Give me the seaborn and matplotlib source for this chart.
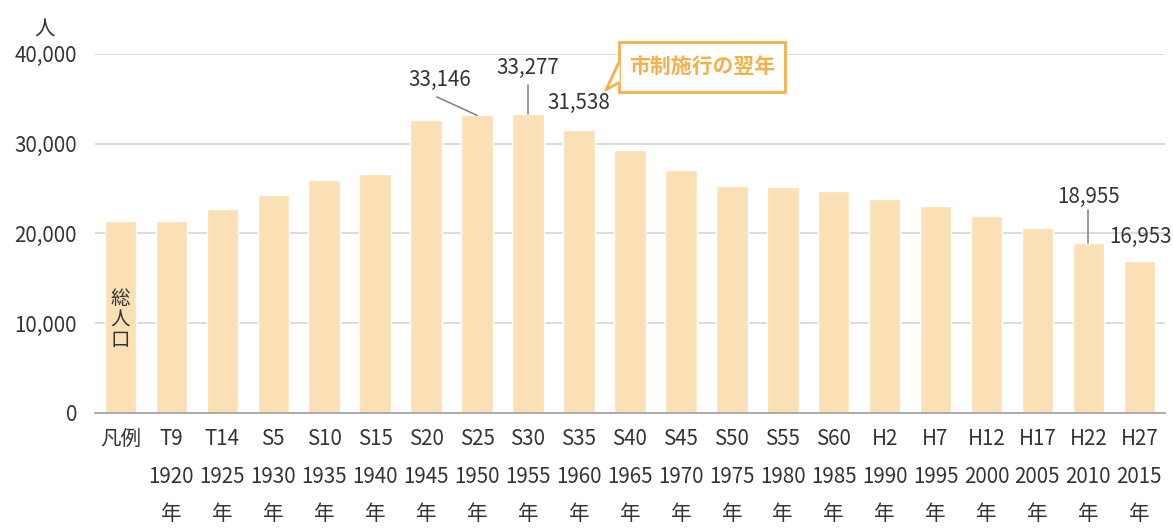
import matplotlib
matplotlib.use("Agg")
import matplotlib.pyplot as plt
import seaborn as sns
import pandas as pd
from matplotlib.patches import Rectangle, Polygon
from matplotlib.lines import Line2D

# データ
era = ["凡例", "T9", "T14", "S5", "S10", "S15", "S20", "S25", "S30", "S35", "S40",
       "S45", "S50", "S55", "S60", "H2", "H7", "H12", "H17", "H22", "H27"]
years = ["", "1920", "1925", "1930", "1935", "1940", "1945", "1950", "1955", "1960",
         "1965", "1970", "1975", "1980", "1985", "1990", "1995", "2000", "2005", "2010", "2015"]
population = [21400, 21400, 22730, 24290, 25960, 26630, 32650, 33146, 33277, 31538, 29300,
              27080, 25290, 25180, 24740, 23840, 23060, 21950, 20610, 18955, 16953]
labelled = ["S25", "S30", "S35", "H22", "H27"]

sns.set_theme(style="white")
plt.rcParams['font.family'] = ['Noto Sans CJK JP', 'DejaVu Sans']

txt = "#333333"
bar_c = "#FBE0B5"
orange = "#F5B04A"
fs = 14.8

df = pd.DataFrame({"era": era, "pop": population})

fig = plt.figure(figsize=(11.73, 5.29), dpi=100)
ax = fig.add_axes([0.081, 0.2193, 0.912, 0.6789])

sns.barplot(data=df, x="era", y="pop", color=bar_c, width=0.62, saturation=1, ax=ax)

ax.set_ylim(0, 40000)
ax.set_xlim(-0.5, len(era) - 0.5)
ax.set_yticks(range(0, 40001, 10000))
ax.set_yticklabels([f"{v:,}" for v in range(0, 40001, 10000)], fontsize=fs, color=txt)
ax.yaxis.grid(True, color="#DCDCDC", linewidth=1.4)
ax.set_axisbelow(True)
ax.tick_params(axis="y", length=0, pad=13)

# x ticks: labels at centers, tick marks at boundaries
xl = [f"{e}\n{y}\n年" if y else e + "\n\n" for e, y in zip(era, years)]
ax.set_xticks(range(len(era)))
ax.set_xticklabels(xl, fontsize=fs, color=txt, linespacing=1.9, va="top")
ax.set_xticks([i - 0.5 for i in range(len(era) + 1)], minor=True)
ax.tick_params(axis="x", which="major", length=0, pad=11)
ax.tick_params(axis="x", which="minor", length=7, width=1.3, color="#A6A6A6", direction="out")
ax.set_xlabel("")
ax.set_ylabel("")

for s in ["top", "right", "left"]:
    ax.spines[s].set_visible(False)
ax.spines["bottom"].set_color("#A6A6A6")
ax.spines["bottom"].set_linewidth(1.3)

# 単位
fig.text(0.038, 0.945, "人", fontsize=fs, color=txt, ha="center", va="center")

# 凡例バーの中の縦書き
ax.text(0, population[0] * 0.485, "総\n人\n口", fontsize=14, color=txt,
        ha="center", va="center", linespacing=1.0)

# 数値ラベル
label_pos = {"S25": (-0.73, 3950), "S30": (0, 5160), "S35": (0, 3000),
             "H22": (0, 5110), "H27": (0.02, 2660)}
leader = {"S25": (-0.79, 2060), "S30": (0, 3270), "H22": (0, 3660)}
for e in labelled:
    i = era.index(e)
    v = population[i]
    dx, dy = label_pos[e]
    ax.text(i + dx, v + dy, f"{v:,}", fontsize=fs, color=txt, ha="center", va="center")
    if e in leader:
        lx, ly = leader[e]
        ax.plot([i + lx, i], [v + ly, v], color="#7F7F7F", linewidth=1.1)

# 吹き出し
bx0, bx1, by0, by1 = 9.78, 13.04, 35770, 41340
ax.add_patch(Rectangle((bx0, by0), bx1 - bx0, by1 - by0, facecolor="white",
                       edgecolor=orange, linewidth=2, clip_on=False, zorder=5))
tail = [(bx0 + 0.02, 39000), (9.53, 36000), (bx0 + 0.02, 36770)]
ax.add_patch(Polygon(tail, closed=True, facecolor="white", edgecolor="none",
                     clip_on=False, zorder=6))
ax.add_line(Line2D([bx0, 9.53, bx0], [39000, 36000, 36770], color=orange,
                   linewidth=2, clip_on=False, zorder=7))
ax.text((bx0 + bx1) / 2, (by0 + by1) / 2, "市制施行の翌年", fontsize=15,
        fontweight="bold", color=orange, ha="center", va="center", zorder=8)

fig.savefig("out.png", dpi=100)
